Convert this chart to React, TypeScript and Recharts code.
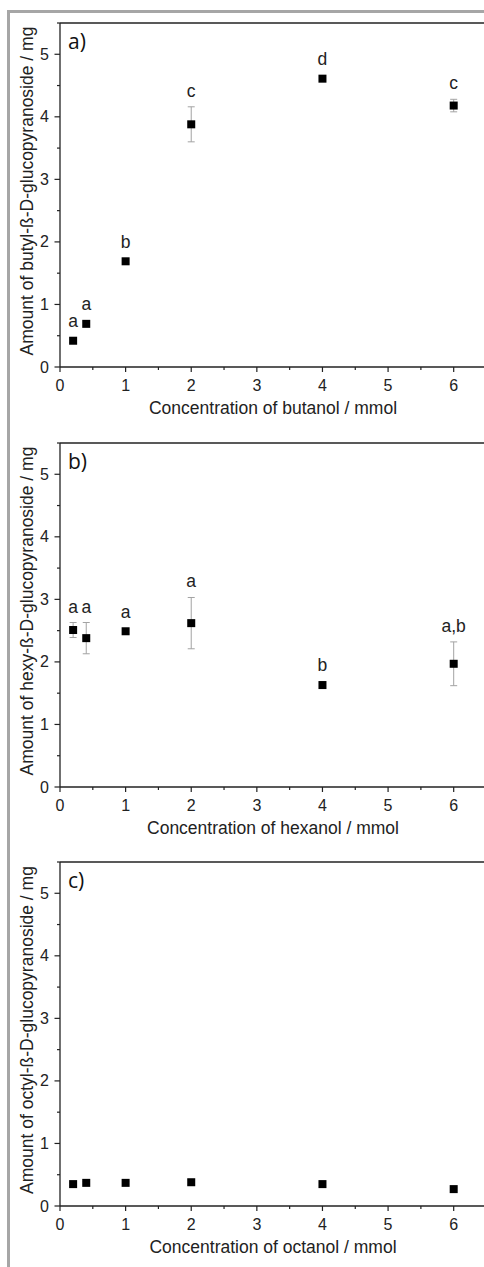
import React from 'react';
import { ScatterChart, Scatter, XAxis, YAxis, ErrorBar, ReferenceLine } from 'recharts';

const concentrations = [0.2, 0.4, 1, 2, 4, 6];

const butylAmount = [0.42, 0.69, 1.69, 3.88, 4.61, 4.18];
const butylError = [0.03, 0.03, 0.04, 0.28, 0.03, 0.1];
const butylLetters = ['a', 'a', 'b', 'c', 'd', 'c'];

const hexylAmount = [2.51, 2.38, 2.49, 2.62, 1.63, 1.97];
const hexylError = [0.12, 0.25, 0.04, 0.41, 0.05, 0.35];
const hexylLetters = ['a', 'a', 'a', 'a', 'b', 'a,b'];

const octylAmount = [0.35, 0.37, 0.37, 0.38, 0.35, 0.27];
const octylError = [0.02, 0.02, 0.02, 0.04, 0.02, 0.02];
const octylLetters: string[] = [];

const xTicks = [0, 0.5, 1, 1.5, 2, 2.5, 3, 3.5, 4, 4.5, 5, 5.5, 6, 6.5];
const yTicks = [0, 0.5, 1, 1.5, 2, 2.5, 3, 3.5, 4, 4.5, 5, 5.5];

const FONT = '"Liberation Sans", Arial, sans-serif';
const INK = '#222';

const XTick = (props: any) => {
  const { x, y, payload } = props;
  const v = payload.value;
  const major = Number.isInteger(v);
  return (
    <g>
      <line x1={x} x2={x} y1={y} y2={y + (major ? 5 : 3)} stroke={INK} strokeWidth={1.2} />
      {major && v <= 6 && (
        <text x={x} y={y + 24} textAnchor="middle" fontSize={16} fontFamily={FONT} fill={INK}>
          {v}
        </text>
      )}
    </g>
  );
};

const YTick = (props: any) => {
  const { x, y, payload } = props;
  const v = payload.value;
  const major = Number.isInteger(v);
  return (
    <g>
      <line x1={x} x2={x - (major ? 5.5 : 3)} y1={y} y2={y} stroke={INK} strokeWidth={1.2} />
      {major && (
        <text x={x - 11} y={y + 5.5} textAnchor="end" fontSize={16} fontFamily={FONT} fill={INK}>
          {v}
        </text>
      )}
    </g>
  );
};

const NoMark = () => <g />;

const SquareMark = (props: any) => {
  const { cx, cy } = props;
  return <rect x={cx - 4} y={cy - 4} width={8} height={8} fill="#000" />;
};

const LetterMark = (props: any) => {
  const { cx, cy, payload } = props;
  return (
    <text x={cx} y={cy - 10} textAnchor="middle" fontSize={17.5} fontFamily={FONT} fill={INK}>
      {payload.letter}
    </text>
  );
};

interface PanelProps {
  top: number;
  tag: string;
  yTitle: string;
  xTitle: string;
  amount: number[];
  error: number[];
  letters: string[];
}

function Panel({ top, tag, yTitle, xTitle, amount, error, letters }: PanelProps) {
  const points = concentrations.map((x, i) => ({ x, y: amount[i], err: error[i] }));
  const labels = letters.map((letter, i) => ({
    x: concentrations[i],
    y: amount[i] + Math.max(error[i], 0.06),
    letter,
  }));

  return (
    <div style={{ position: 'absolute', left: 0, top, width: 500, height: 427 }}>
      <ScatterChart width={500} height={427} margin={{ top: 23, right: 13.5, left: 0, bottom: 0 }}>
        <XAxis
          type="number"
          dataKey="x"
          domain={[0, 6.5]}
          ticks={xTicks}
          interval={0}
          tickSize={0}
          tickMargin={0}
          height={60}
          tick={<XTick />}
          axisLine={{ stroke: INK, strokeWidth: 1.3 }}
          allowDataOverflow
        />
        <YAxis
          type="number"
          dataKey="y"
          domain={[0, 5.5]}
          ticks={yTicks}
          interval={0}
          tickSize={0}
          tickMargin={0}
          width={60}
          tick={<YTick />}
          axisLine={{ stroke: INK, strokeWidth: 1.3 }}
          allowDataOverflow
        />
        <ReferenceLine y={5.5} stroke={INK} strokeWidth={1.3} />
        {/* error bars first so the squares sit on top */}
        <Scatter data={points} shape={<NoMark />} isAnimationActive={false}>
          <ErrorBar dataKey="err" direction="y" width={3.5} stroke="#a3a3a3" strokeWidth={1} />
        </Scatter>
        <Scatter data={points} shape={<SquareMark />} isAnimationActive={false} />
        <Scatter data={labels} shape={<LetterMark />} isAnimationActive={false} />
      </ScatterChart>
      <svg
        width={500}
        height={427}
        style={{ position: 'absolute', left: 0, top: 0, pointerEvents: 'none' }}
      >
        <text x={68} y={49} fontSize={21} fontFamily='"Open Sans", sans-serif' fill="#111">
          {tag}
        </text>
        <text
          x={33}
          y={191}
          transform="rotate(-90, 33, 191)"
          textAnchor="middle"
          fontSize={17.5}
          fontFamily={FONT}
          fill={INK}
        >
          {yTitle}
        </text>
        <text x={273} y={414} textAnchor="middle" fontSize={17.5} fontFamily={FONT} fill={INK}>
          {xTitle}
        </text>
      </svg>
    </div>
  );
}

export default function App() {
  return (
    <div
      style={{
        position: 'absolute',
        left: 0,
        top: 0,
        width: 484,
        height: 1267,
        overflow: 'hidden',
        background: '#fff',
      }}
    >
      <div
        style={{
          position: 'absolute',
          left: 7,
          top: 10,
          width: 600,
          height: 1400,
          borderLeft: '3px solid #a6a6a6',
          borderTop: '3px solid #a6a6a6',
        }}
      />
      <Panel
        top={0}
        tag="a)"
        yTitle="Amount of butyl-ß-D-glucopyranoside / mg"
        xTitle="Concentration of butanol / mmol"
        amount={butylAmount}
        error={butylError}
        letters={butylLetters}
      />
      <Panel
        top={420}
        tag="b)"
        yTitle="Amount of hexy-ß-D-glucopyranoside / mg"
        xTitle="Concentration of hexanol / mmol"
        amount={hexylAmount}
        error={hexylError}
        letters={hexylLetters}
      />
      <Panel
        top={839}
        tag="c)"
        yTitle="Amount of octyl-ß-D-glucopyranoside / mg"
        xTitle="Concentration of octanol / mmol"
        amount={octylAmount}
        error={octylError}
        letters={octylLetters}
      />
    </div>
  );
}
